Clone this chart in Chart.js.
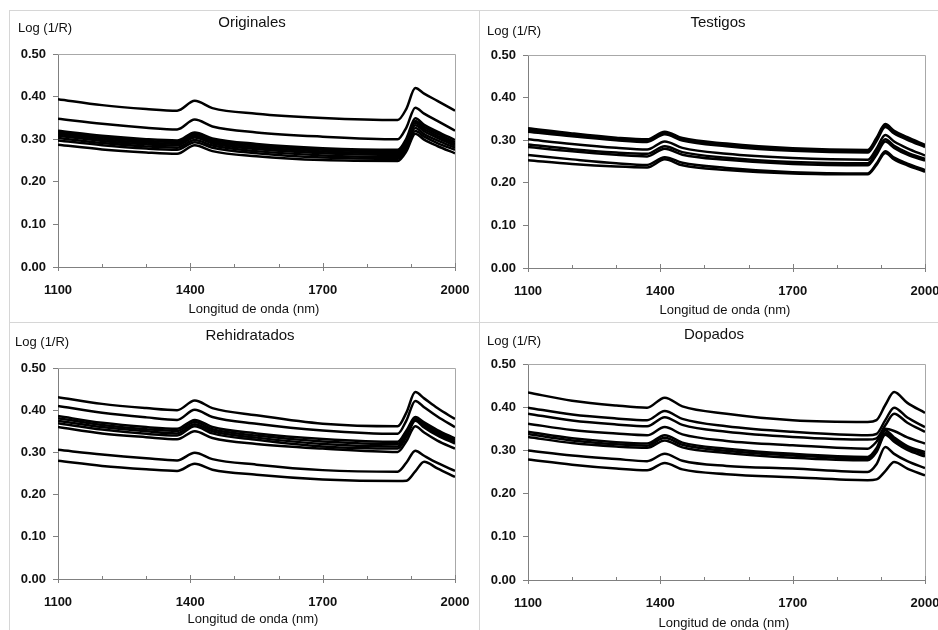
<!DOCTYPE html>
<html>
<head>
<meta charset="utf-8">
<script src="https://cdn.jsdelivr.net/npm/chart.js@4.4.1/dist/chart.umd.min.js"></script>
<style>
  body { margin: 0; background: #fff; }
  #wrap { position: relative; width: 938px; height: 630px; overflow: hidden; }
  #wrap canvas { position: absolute; left: 0; top: 0; }
  .ln { position: absolute; background: #d6d6d6; }
</style>
</head>
<body>
<div id="wrap">
  <div class="ln" style="left:9px;top:10px;width:929px;height:1px"></div>
  <div class="ln" style="left:9px;top:10px;width:1px;height:620px"></div>
  <div class="ln" style="left:479px;top:10px;width:1px;height:620px"></div>
  <div class="ln" style="left:9px;top:322px;width:929px;height:1px"></div>
  <canvas id="c1" width="938" height="630"></canvas>
  <canvas id="c2" width="938" height="630"></canvas>
  <canvas id="c3" width="938" height="630"></canvas>
  <canvas id="c4" width="938" height="630"></canvas>
</div>
<script>
// wavelengths (nm) where the spectra were read
var wavelengths = [1100, 1200, 1300, 1370, 1410, 1450, 1550, 1700, 1870, 1890, 1910, 1930, 1960, 2000];
var xTicks = [1100, 1400, 1700, 2000];
var xMinorTicks = [1200, 1300, 1500, 1600, 1800, 1900];
var yTicks = [0, 0.1, 0.2, 0.3, 0.4, 0.5];

// Log(1/R) spectra, one row per sample
var originales = [
    [0.394, 0.380, 0.371, 0.367, 0.390, 0.373, 0.360, 0.350, 0.345, 0.372, 0.420, 0.407, 0.390, 0.367],
    [0.348, 0.336, 0.327, 0.323, 0.346, 0.330, 0.316, 0.306, 0.300, 0.328, 0.374, 0.360, 0.343, 0.320],
    [0.320, 0.308, 0.300, 0.297, 0.316, 0.302, 0.289, 0.279, 0.275, 0.302, 0.349, 0.334, 0.318, 0.298],
    [0.316, 0.304, 0.296, 0.293, 0.312, 0.298, 0.285, 0.275, 0.271, 0.297, 0.343, 0.329, 0.313, 0.293],
    [0.312, 0.300, 0.292, 0.289, 0.308, 0.294, 0.281, 0.271, 0.267, 0.293, 0.338, 0.324, 0.308, 0.289],
    [0.308, 0.296, 0.288, 0.285, 0.304, 0.290, 0.277, 0.267, 0.263, 0.289, 0.333, 0.319, 0.303, 0.285],
    [0.303, 0.291, 0.283, 0.280, 0.298, 0.285, 0.272, 0.262, 0.258, 0.283, 0.326, 0.312, 0.297, 0.280],
    [0.297, 0.286, 0.278, 0.275, 0.293, 0.280, 0.267, 0.257, 0.254, 0.278, 0.319, 0.306, 0.291, 0.275],
    [0.287, 0.276, 0.269, 0.266, 0.286, 0.272, 0.260, 0.251, 0.249, 0.272, 0.313, 0.299, 0.284, 0.267]
];
var testigos = [
    [0.328, 0.316, 0.306, 0.302, 0.320, 0.305, 0.292, 0.281, 0.277, 0.305, 0.338, 0.322, 0.307, 0.289],
    [0.324, 0.312, 0.303, 0.299, 0.317, 0.302, 0.289, 0.278, 0.274, 0.302, 0.335, 0.319, 0.304, 0.286],
    [0.320, 0.309, 0.300, 0.296, 0.314, 0.299, 0.286, 0.275, 0.271, 0.298, 0.331, 0.316, 0.301, 0.284],
    [0.302, 0.291, 0.282, 0.278, 0.297, 0.282, 0.268, 0.258, 0.254, 0.280, 0.312, 0.297, 0.281, 0.264],
    [0.290, 0.279, 0.271, 0.268, 0.286, 0.272, 0.259, 0.249, 0.246, 0.272, 0.302, 0.287, 0.271, 0.256],
    [0.284, 0.274, 0.266, 0.262, 0.280, 0.266, 0.254, 0.244, 0.241, 0.266, 0.297, 0.282, 0.266, 0.252],
    [0.265, 0.255, 0.246, 0.242, 0.260, 0.247, 0.235, 0.225, 0.222, 0.245, 0.274, 0.259, 0.245, 0.230],
    [0.253, 0.244, 0.238, 0.236, 0.255, 0.241, 0.230, 0.222, 0.220, 0.242, 0.270, 0.255, 0.241, 0.226]
];
var rehidratados = [
    [0.431, 0.415, 0.405, 0.400, 0.423, 0.405, 0.388, 0.368, 0.362, 0.395, 0.443, 0.428, 0.405, 0.379],
    [0.410, 0.394, 0.383, 0.377, 0.401, 0.384, 0.368, 0.352, 0.344, 0.376, 0.422, 0.407, 0.385, 0.360],
    [0.386, 0.370, 0.360, 0.356, 0.377, 0.360, 0.345, 0.332, 0.325, 0.352, 0.384, 0.371, 0.353, 0.333],
    [0.381, 0.365, 0.355, 0.351, 0.372, 0.355, 0.340, 0.326, 0.320, 0.347, 0.381, 0.367, 0.348, 0.329],
    [0.375, 0.360, 0.350, 0.345, 0.367, 0.350, 0.335, 0.320, 0.314, 0.342, 0.378, 0.363, 0.344, 0.325],
    [0.369, 0.354, 0.344, 0.340, 0.362, 0.345, 0.330, 0.314, 0.309, 0.337, 0.375, 0.359, 0.340, 0.321],
    [0.360, 0.345, 0.336, 0.331, 0.350, 0.334, 0.320, 0.309, 0.301, 0.327, 0.362, 0.347, 0.328, 0.309],
    [0.306, 0.295, 0.286, 0.281, 0.299, 0.284, 0.271, 0.258, 0.254, 0.276, 0.304, 0.292, 0.275, 0.256],
    [0.280, 0.268, 0.260, 0.256, 0.273, 0.259, 0.247, 0.236, 0.232, 0.233, 0.255, 0.278, 0.262, 0.242]
];
var dopados = [
    [0.434, 0.415, 0.404, 0.399, 0.422, 0.402, 0.385, 0.370, 0.366, 0.370, 0.405, 0.435, 0.410, 0.387],
    [0.399, 0.383, 0.374, 0.370, 0.391, 0.373, 0.356, 0.343, 0.335, 0.338, 0.370, 0.399, 0.376, 0.354],
    [0.385, 0.369, 0.360, 0.356, 0.377, 0.359, 0.343, 0.331, 0.325, 0.328, 0.358, 0.385, 0.364, 0.343],
    [0.362, 0.347, 0.339, 0.335, 0.354, 0.337, 0.322, 0.312, 0.304, 0.320, 0.350, 0.345, 0.330, 0.316],
    [0.343, 0.328, 0.319, 0.316, 0.335, 0.318, 0.304, 0.292, 0.285, 0.305, 0.346, 0.330, 0.310, 0.296],
    [0.338, 0.323, 0.314, 0.311, 0.329, 0.313, 0.299, 0.288, 0.281, 0.300, 0.340, 0.325, 0.306, 0.291],
    [0.331, 0.317, 0.309, 0.306, 0.323, 0.307, 0.294, 0.283, 0.277, 0.296, 0.336, 0.320, 0.301, 0.286],
    [0.300, 0.288, 0.280, 0.275, 0.292, 0.276, 0.264, 0.258, 0.250, 0.268, 0.308, 0.292, 0.275, 0.259],
    [0.279, 0.267, 0.258, 0.254, 0.271, 0.256, 0.245, 0.238, 0.231, 0.233, 0.252, 0.273, 0.258, 0.242]
];

var FONT = '"Liberation Sans", Arial, sans-serif';

var panels = [
    { id: 'c1', title: 'Originales', data: originales,
      plot: { l: 58, r: 455, t: 54, b: 267 },
      titlePos: [252, 23], logPos: [18, 28], axPos: [254, 309] },
    { id: 'c2', title: 'Testigos', data: testigos,
      plot: { l: 528, r: 925, t: 55, b: 268 },
      titlePos: [718, 23], logPos: [487, 31], axPos: [725, 310] },
    { id: 'c3', title: 'Rehidratados', data: rehidratados,
      plot: { l: 58, r: 455, t: 368, b: 579 },
      titlePos: [250, 336], logPos: [15, 342], axPos: [253, 619] },
    { id: 'c4', title: 'Dopados', data: dopados,
      plot: { l: 528, r: 925, t: 364, b: 580 },
      titlePos: [714, 335], logPos: [487, 341], axPos: [724, 623] }
];

// frame, x tick marks and texts of one panel
var panelDeco = {
    id: 'panelDeco',
    afterDraw: function (chart, args, opts) {
        var ctx = chart.ctx, a = chart.chartArea, xs = chart.scales.x;
        ctx.save();
        ctx.lineWidth = 1;
        ctx.strokeStyle = '#a8a8a8';
        ctx.beginPath();
        ctx.moveTo(a.left, a.top + 0.5);
        ctx.lineTo(a.right + 0.5, a.top + 0.5);
        ctx.lineTo(a.right + 0.5, a.bottom);
        ctx.stroke();

        ctx.strokeStyle = '#808080';
        ctx.beginPath();
        xTicks.forEach(function (v) {
            var px = Math.round(xs.getPixelForValue(v)) + 0.5;
            ctx.moveTo(px, a.bottom - 4);
            ctx.lineTo(px, a.bottom + 4);
        });
        xMinorTicks.forEach(function (v) {
            var px = Math.round(xs.getPixelForValue(v)) + 0.5;
            ctx.moveTo(px, a.bottom - 3);
            ctx.lineTo(px, a.bottom);
        });
        ctx.stroke();

        ctx.fillStyle = '#111';
        ctx.textBaseline = 'middle';
        ctx.font = '15px ' + FONT;
        ctx.textAlign = 'center';
        ctx.fillText(opts.title, opts.titlePos[0], opts.titlePos[1]);
        ctx.font = '13px ' + FONT;
        ctx.fillText('Longitud de onda (nm)', opts.axPos[0], opts.axPos[1]);
        ctx.textAlign = 'left';
        ctx.fillText('Log (1/R)', opts.logPos[0], opts.logPos[1]);
        ctx.restore();
    }
};

panels.forEach(function (p) {
    var datasets = p.data.map(function (row, i) {
        return {
            label: p.title + ' ' + (i + 1),
            data: wavelengths.map(function (w, j) { return { x: w, y: row[j] }; }),
            borderColor: '#000',
            borderWidth: 2.5,
            pointRadius: 0,
            cubicInterpolationMode: 'monotone',
            fill: false
        };
    });

    new Chart(document.getElementById(p.id), {
        type: 'line',
        data: { datasets: datasets },
        options: {
            responsive: false,
            animation: false,
            events: [],
            layout: {
                padding: { left: p.plot.l - 50, right: 938 - p.plot.r, top: p.plot.t, bottom: 630 - p.plot.b - 40 }
            },
            plugins: {
                legend: { display: false },
                tooltip: { enabled: false },
                panelDeco: { title: p.title, titlePos: p.titlePos, logPos: p.logPos, axPos: p.axPos }
            },
            scales: {
                x: {
                    type: 'linear',
                    min: 1100,
                    max: 2000,
                    afterFit: function (s) { s.height = 40; s.paddingLeft = 0; s.paddingRight = 0; },
                    afterBuildTicks: function (s) { s.ticks = xTicks.map(function (v) { return { value: v }; }); },
                    grid: { display: false },
                    border: { display: true, color: '#808080' },
                    ticks: { padding: 8, maxRotation: 0, autoSkip: false, color: '#111',
                             font: { family: FONT, size: 13, weight: 'bold' },
                             callback: function (v) { return String(v); } }
                },
                y: {
                    min: 0,
                    max: 0.5,
                    afterFit: function (s) { s.width = 50; s.paddingTop = 0; s.paddingBottom = 0; },
                    afterBuildTicks: function (s) { s.ticks = yTicks.map(function (v) { return { value: v }; }); },
                    grid: { drawOnChartArea: false, tickLength: 5, color: '#808080' },
                    border: { color: '#808080' },
                    ticks: { padding: 7, color: '#111',
                             font: { family: FONT, size: 13, weight: 'bold' },
                             callback: function (v) { return v.toFixed(2); } }
                }
            }
        },
        plugins: [panelDeco]
    });
});
</script>
</body>
</html>
